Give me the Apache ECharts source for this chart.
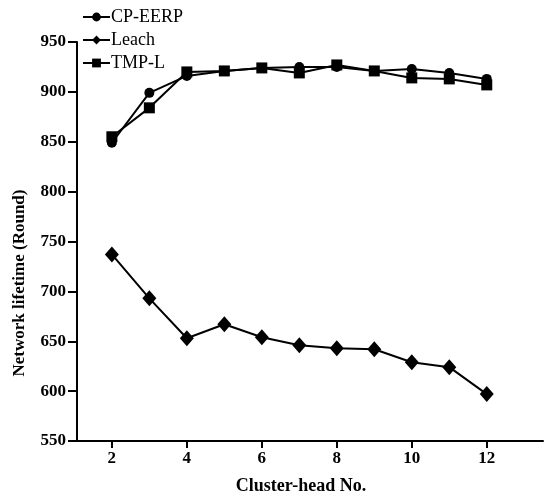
<!DOCTYPE html>
<html><head><meta charset="utf-8">
<script src="https://cdn.jsdelivr.net/npm/echarts@6/dist/echarts.min.js"></script>
<style>html,body{margin:0;padding:0;background:#fff}#c{width:547px;height:498px}</style>
</head><body><div id="c"></div>
<script>
var categories = [2,3,4,5,6,7,8,9,10,11,12];
var cpEerp = [849,899,916,921,924,925,925,921,923,919,913];
var leach  = [737,693,653,667,654,646,643,642,629,624,597];
var tmpL   = [855,884,920,921,924,919,927,921,914,913,907];
var xTicks = [2,4,6,8,10,12];
var seriesNames = ['CP-EERP','Leach','TMP-L'];
var font = 'Liberation Serif';
function pairs(v){return categories.map(function(c,i){return [c,v[i]];});}
var chart = echarts.init(document.getElementById('c'),null,{renderer:'canvas'});
var ls = {color:'#000',width:2};
chart.setOption({
  animation:false,
  backgroundColor:'#fff',
  color:['#000','#000','#000'],
  legend:{
    orient:'vertical', left:77, top:3, itemGap:5, itemWidth:27, itemHeight:11,
    textStyle:{fontFamily:font,fontSize:18,color:'#000',padding:[0,0,0,-4]},
    data:seriesNames
  },
  grid:{left:77,top:42,right:4,bottom:57,containLabel:false},
  xAxis:{
    type:'value', min:1.07, max:13.5,
    axisLine:{lineStyle:{color:'#000',width:2}},
    axisTick:{show:true,length:7,lineStyle:{color:'#000',width:2},customValues:xTicks},
    axisLabel:{customValues:xTicks,color:'#000',fontFamily:font,fontWeight:'bold',fontSize:17,margin:9},
    splitLine:{show:false}
  },
  yAxis:{
    type:'value', min:550, max:950, interval:50,
    axisLine:{show:true,lineStyle:{color:'#000',width:2}},
    axisTick:{show:true,length:9,lineStyle:{color:'#000',width:2}},
    axisLabel:{color:'#000',fontFamily:font,fontWeight:'bold',fontSize:17,margin:11},
    splitLine:{show:false}
  },
  graphic:[
    {type:'text',x:0,y:0,style:{text:'Cluster-head No.',x:301,y:486,align:'center',verticalAlign:'middle',fill:'#000',font:'bold 18px "Liberation Serif"'}},
    {type:'text',x:20,y:283,rotation:Math.PI/2,style:{text:'Network lifetime (Round)',align:'center',verticalAlign:'middle',fill:'#000',font:'bold 17px "Liberation Serif"'}}
  ],
  series:[
    {name:'CP-EERP',type:'line',data:pairs(cpEerp),symbol:'circle',symbolSize:10,lineStyle:ls,itemStyle:{color:'#000'}},
    {name:'Leach',type:'line',data:pairs(leach),symbol:'diamond',symbolSize:[14,16],lineStyle:ls,itemStyle:{color:'#000'}},
    {name:'TMP-L',type:'line',data:pairs(tmpL),symbol:'rect',symbolSize:11,lineStyle:ls,itemStyle:{color:'#000'}}
  ]
});
</script></body></html>
